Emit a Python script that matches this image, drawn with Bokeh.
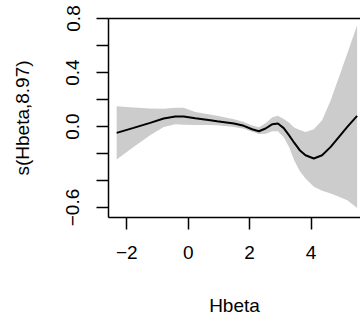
from bokeh.plotting import figure
from bokeh.models import Range1d, LinearAxis, FixedTicker, CustomJSTickFormatter
from bokeh.embed import file_html
from bokeh.resources import INLINE

# Smooth term s(Hbeta, 8.97) with its confidence band
hbeta = [-2.33, -1.78, -1.24, -0.80, -0.42, -0.15, 0.23, 0.66, 0.94, 1.49, 1.81, 2.08, 2.30,
         2.52, 2.74, 2.92, 3.11, 3.28, 3.45, 3.63, 3.82, 4.09, 4.36, 4.64, 4.91, 5.18, 5.50]
fit = [-0.047, -0.010, 0.027, 0.059, 0.074, 0.074, 0.061, 0.049, 0.039, 0.022, 0.005, -0.020, -0.035,
       -0.015, 0.017, 0.022, -0.012, -0.064, -0.120, -0.175, -0.213, -0.237, -0.213, -0.151, -0.077,
       -0.003, 0.079]
upper = [0.150, 0.141, 0.133, 0.131, 0.138, 0.138, 0.108, 0.091, 0.079, 0.054, 0.033, 0.008, -0.006,
         0.025, 0.068, 0.079, 0.055, 0.030, -0.008, -0.025, -0.040, -0.020, 0.047, 0.195, 0.367,
         0.541, 0.750]
lower = [-0.245, -0.151, -0.064, -0.003, 0.017, 0.013, 0.012, 0.012, 0.010, -0.003, -0.016, -0.038, -0.056,
         -0.054, -0.035, -0.036, -0.080, -0.150, -0.250, -0.330, -0.385, -0.447, -0.475, -0.496, -0.520,
         -0.546, -0.603]

x_ticks = [-2, 0, 2, 4]
y_labeled_ticks = [-0.6, 0.0, 0.4, 0.8]
y_unlabeled_ticks = [-0.4, -0.2, 0.2, 0.6]

FONT = "Liberation Sans"
FS = "19px"

p = figure(width=360, height=323, output_backend="svg", toolbar_location=None,
           x_range=Range1d(-2.596, 5.61), y_range=Range1d(-0.674, 0.8),
           min_border_left=108, min_border_right=0, min_border_top=18, min_border_bottom=106,
           x_axis_label="Hbeta", y_axis_label="s(Hbeta,8.97)")
p.grid.visible = False
p.outline_line_color = None
p.background_fill_color = "white"
p.border_fill_color = "white"

p.varea(x=hbeta, y1=lower, y2=upper, fill_color="#cccccc")
p.line(x=hbeta, y=fit, line_color="black", line_width=2)

xa = p.xaxis[0]
xa.ticker = FixedTicker(ticks=x_ticks)
xa.formatter = CustomJSTickFormatter(code="return tick < 0 ? '\u2212' + Math.abs(tick).toString() : tick.toString();")
ya = p.yaxis[0]
ya.ticker = FixedTicker(ticks=y_labeled_ticks, minor_ticks=y_unlabeled_ticks)
ya.formatter = CustomJSTickFormatter(code="return tick < 0 ? '\u2212' + Math.abs(tick).toFixed(1) : tick.toFixed(1);")
ya.major_label_orientation = "vertical"

for ax in (xa, ya):
    ax.axis_line_color = "black"
    ax.axis_line_width = 1.5
    ax.major_tick_line_color = "black"
    ax.major_tick_line_width = 1.5
    ax.major_tick_in = 0
    ax.major_tick_out = 12
    ax.minor_tick_line_color = "black"
    ax.minor_tick_line_width = 1.5
    ax.minor_tick_in = 0
    ax.minor_tick_out = 12
    ax.major_label_text_font = FONT
    ax.major_label_text_font_size = FS
    ax.major_label_text_color = "black"
    ax.axis_label_text_font = FONT
    ax.axis_label_text_font_size = FS
    ax.axis_label_text_font_style = "normal"
    ax.axis_label_text_color = "black"

xa.major_label_standoff = 16
xa.axis_label_standoff = 33
ya.major_label_standoff = 17
ya.axis_label_standoff = 31

top = LinearAxis(ticker=FixedTicker(ticks=[]), major_label_text_font_size="0px",
                 axis_line_width=1.5, axis_line_color="black",
                 major_tick_out=0, minor_tick_out=0)
p.add_layout(top, "above")

open("out.html", "w").write(file_html(p, INLINE))
